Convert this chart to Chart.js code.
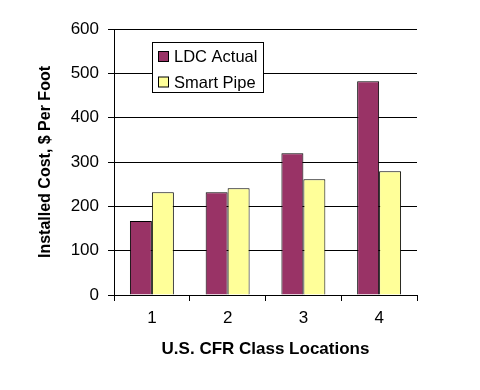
<!DOCTYPE html>
<html>
<head>
<meta charset="utf-8">
<script src="https://cdn.jsdelivr.net/npm/chart.js@4/dist/chart.umd.min.js"></script>
<style>
html,body{margin:0;padding:0;background:#fff;}
#wrap{width:480px;height:390px;}
</style>
</head>
<body>
<div id="wrap"><canvas id="c" width="480" height="390"></canvas></div>
<script>
const categories = ['1', '2', '3', '4'];
const ldcActual = [167, 232, 320, 482];
const smartPipe = [232, 241, 261, 279];
const seriesNames = ['LDC Actual', 'Smart Pipe'];
const yTicks = [0, 100, 200, 300, 400, 500, 600];
const xTitle = 'U.S. CFR Class Locations';
const yTitle = 'Installed Cost, $ Per Foot';

const FONT = "Arial, 'Liberation Sans', sans-serif";

const boxLegend = {
  id: 'boxLegend',
  afterDraw(chart) {
    const ctx = chart.ctx;
    const x = 152.5, y = 42.5, w = 111, h = 50;
    ctx.save();
    ctx.fillStyle = '#fff';
    ctx.fillRect(x, y, w, h);
    ctx.strokeStyle = '#000';
    ctx.lineWidth = 1;
    ctx.strokeRect(x, y, w, h);
    ctx.font = '16.5px ' + FONT;
    ctx.textBaseline = 'middle';
    chart.data.datasets.forEach((ds, i) => {
      const cy = 56.5 + i * 25.5;
      ctx.fillStyle = ds.backgroundColor;
      ctx.fillRect(158.5, cy - 5, 10, 10);
      ctx.strokeStyle = '#000';
      ctx.strokeRect(158.5, cy - 5, 10, 10);
      ctx.fillStyle = '#000';
      ctx.fillText(ds.label, 174, cy + 1);
    });
    ctx.restore();
  }
};

new Chart(document.getElementById('c'), {
  type: 'bar',
  data: {
    labels: categories,
    datasets: [
      {label: seriesNames[0], data: ldcActual, backgroundColor: '#993366', borderColor: '#000', borderWidth: 1, barPercentage: 1, categoryPercentage: 0.58},
      {label: seriesNames[1], data: smartPipe, backgroundColor: '#FFFF99', borderColor: '#000', borderWidth: 1, barPercentage: 1, categoryPercentage: 0.58}
    ]
  },
  options: {
    responsive: false,
    animation: false,
    devicePixelRatio: 1,
    layout: {padding: {top: 29, right: 63, left: 0, bottom: 0}},
    plugins: {legend: {display: false}, tooltip: {enabled: false}},
    scales: {
      x: {
        grid: {display: true, drawOnChartArea: false, offset: true, color: '#000', tickLength: 6, tickColor: '#000'},
        border: {display: true, color: '#000', width: 1},
        ticks: {color: '#000', font: {family: FONT, size: 17}, padding: 7},
        title: {display: true, text: xTitle, color: '#000', font: {family: FONT, size: 17, weight: 'bold'}, padding: {top: 4, bottom: 30}},
        afterFit(s) { s.height = 95; }
      },
      y: {
        min: 0, max: 600,
        afterBuildTicks(s) { s.ticks = yTicks.map(v => ({value: v})); },
        grid: {display: true, drawOnChartArea: true, color: '#000', tickLength: 6, tickColor: '#000'},
        border: {display: true, color: '#000', width: 1},
        ticks: {color: '#000', font: {family: FONT, size: 17}, padding: 9},
        title: {display: true, text: yTitle, color: '#000', font: {family: FONT, size: 16, weight: 'bold'}, padding: {top: 36, bottom: 4}},
        afterFit(s) { s.width = 114; }
      }
    }
  },
  plugins: [boxLegend]
});
</script>
</body>
</html>
